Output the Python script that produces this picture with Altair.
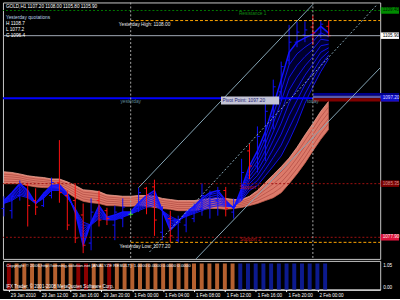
import json
import altair as alt
import pandas as pd

FONT = "Liberation Sans"

# ---------------- data ----------------
BAR = list(range(42))  # H1 bars, 29 Jan 08:00 ... 2 Feb 01:00
OPEN = [1081.9, 1081.6, 1083.7, 1085.1, 1083.0, 1082.3, 1083.7, 1085.5, 1083.7, 1083.0,
        1081.0, 1077.1, 1083.0, 1081.6, 1079.6, 1080.5, 1081.1, 1081.9, 1084.7, 1084.9,
        1078.6, 1080.5, 1077.5, 1079.6, 1080.5, 1081.9, 1082.3, 1083.0, 1084.4, 1081.4,
        1083.3, 1089.9, 1087.8, 1091.3, 1094.7, 1098.1, 1102.5, 1105.0, 1106.0, 1107.1,
        1106.1, 1107.2]
HIGH = [1083.6, 1083.7, 1085.8, 1085.5, 1084.7, 1084.1, 1086.2, 1091.4, 1084.4, 1085.4,
        1082.6, 1083.3, 1084.4, 1082.0, 1082.3, 1083.3, 1081.6, 1084.8, 1084.9, 1085.9,
        1082.2, 1081.6, 1080.9, 1081.4, 1082.6, 1085.4, 1084.4, 1084.9, 1084.9, 1083.3,
        1088.8, 1090.9, 1093.3, 1096.4, 1099.8, 1102.3, 1107.4, 1107.8, 1107.9, 1108.7,
        1108.0, 1108.0]
LOW = [1080.8, 1080.5, 1083.0, 1079.4, 1081.0, 1082.1, 1083.3, 1082.7, 1078.9, 1077.1,
       1075.7, 1076.1, 1079.4, 1079.6, 1077.5, 1079.3, 1080.8, 1081.4, 1081.1, 1078.1,
       1077.5, 1077.2, 1077.2, 1078.6, 1080.0, 1080.9, 1080.5, 1080.9, 1080.8, 1080.5,
       1083.0, 1086.0, 1086.9, 1088.5, 1092.9, 1096.8, 1101.9, 1104.3, 1105.0, 1104.6,
       1105.6, 1105.8]
CLOSE = [1083.0, 1083.6, 1085.3, 1082.3, 1082.1, 1083.7, 1085.5, 1084.1, 1079.6, 1077.8,
         1076.8, 1081.4, 1080.3, 1080.5, 1081.4, 1082.1, 1081.1, 1084.1, 1083.8, 1080.3,
         1081.1, 1078.1, 1080.0, 1080.9, 1082.1, 1083.7, 1084.0, 1084.4, 1081.9, 1082.2,
         1086.9, 1087.8, 1091.9, 1095.4, 1098.8, 1101.6, 1105.0, 1106.4, 1106.7, 1106.3,
         1107.5, 1105.9]
MA_FAST = [1083.0, 1084.1, 1085.35, 1084.4, 1082.6, 1084.0, 1085.1, 1085.2, 1084.0, 1081.4,
           1076.8, 1080.0, 1082.3, 1080.7, 1081.0, 1081.4, 1081.4, 1082.7, 1083.7, 1084.4,
           1081.6, 1078.9, 1080.0, 1081.4, 1082.2, 1083.3, 1084.1, 1084.4, 1083.0, 1081.9,
           1084.7, 1087.8, 1089.9, 1092.6, 1096.1, 1099.8, 1103.6, 1105.0, 1105.6, 1106.1,
           1107.2, 1106.25]
MA_SLOW = [1082.6, 1083.0, 1083.7, 1083.4, 1082.6, 1083.3, 1084.4, 1084.4, 1083.4, 1081.9,
           1080.0, 1079.6, 1080.5, 1080.3, 1080.3, 1080.7, 1081.1, 1081.6, 1082.05, 1082.3,
           1081.6, 1080.8, 1080.3, 1080.8, 1081.2, 1081.6, 1082.05, 1082.3, 1082.2, 1082.2,
           1083.0, 1084.4, 1085.1, 1086.45, 1087.8, 1089.2, 1091.3, 1093.7, 1096.5, 1098.8,
           1100.9, 1102.7]
RIBBON_TOP = [1087.0, 1086.9, 1086.7, 1086.45, 1086.3, 1086.2, 1086.0, 1086.0, 1085.6, 1085.1,
              1084.5, 1084.4, 1084.25, 1083.8, 1083.7, 1083.6, 1083.6, 1083.7, 1083.7, 1083.6,
              1083.3, 1083.15, 1083.0, 1083.0, 1083.0, 1083.15, 1083.3, 1083.3, 1083.3, 1083.15,
              1083.15, 1083.6, 1084.4, 1085.5, 1086.6, 1087.7, 1088.9, 1090.4, 1092.1, 1093.7,
              1095.4, 1096.8]
RIBBON_BOTTOM = [1085.35, 1085.35, 1085.35, 1085.1, 1084.9, 1084.8, 1084.8, 1084.7, 1084.1, 1083.4,
                 1082.9, 1082.7, 1082.6, 1082.3, 1082.3, 1082.2, 1082.2, 1082.3, 1082.2, 1082.05,
                 1081.9, 1081.8, 1081.6, 1081.6, 1081.6, 1081.8, 1081.9, 1081.9, 1081.8, 1081.9,
                 1082.05, 1082.3, 1082.6, 1083.0, 1083.4, 1084.1, 1085.35, 1086.7, 1088.2, 1089.9,
                 1091.5, 1092.9]
SIGNAL_VALUE = [1, 1, 1, 1, 1, 1, 1, 1, 1, 1, 1, 1, 1, 1, 1, 1, 1, 1, 1, 1, 1,
                1, 1, 1, 1, 1, 1, 1, 1, 1, 1, 1, 1, 1, 1, 1, 1, 1, 1, 1, 1, 1]
SIGNAL_STATE = ["red", "orange", "orange", "orange", "orange", "orange", "orange", "orange",
                "orange", "red", "red", "orange", "orange", "red", "orange", "orange", "orange",
                "orange", "orange", "orange", "orange", "orange", "orange", "orange", "orange",
                "orange", "orange", "orange", "orange", "orange", "blue", "blue", "blue", "blue",
                "blue", "blue", "blue", "blue", "blue", "blue", "blue", "blue"]
TIME_TICKS = [0, 4, 8, 12, 16, 20, 24, 28, 32, 36, 40]
TIME_LABELS = ["29 Jan 2010", "29 Jan 12:00", "29 Jan 16:00", "29 Jan 20:00", "1 Feb 00:00",
               "1 Feb 04:00", "1 Feb 08:00", "1 Feb 12:00", "1 Feb 16:00", "1 Feb 20:00",
               "2 Feb 00:00"]
PRICE_TICKS = [1110.10, 1107.90, 1105.70, 1103.50, 1101.30, 1099.10, 1096.90, 1094.70, 1092.50,
               1090.30, 1088.10, 1085.90, 1083.70, 1081.50, 1079.30, 1077.10, 1074.90]
DAY_STARTS = [16, 39]
LEVEL_NAMES = ["Resistance 1", "Yesterday High", "Bid", "Pivot", "Support 1", "Support 2",
               "Yesterday Low"]
LEVEL_PRICES = [1109.4, 1108.0, 1105.9, 1097.2, 1085.35, 1077.9, 1077.2]
CHANNEL_STYLE = ["solid", "dotted", "solid"]
CHANNEL_X0 = [17, 18.375, 24.25]
CHANNEL_P0 = [1084.8, 1075.86, 1074.9]
CHANNEL_X1 = [39, 47.125, 47.5]
CHANNEL_P1 = [1110.24, 1110.24, 1101.44]
YDAY_H, YDAY_L, YDAY_C = 1108.7, 1077.2, 1096.4

# ---------------- scales ----------------
X_MIN, X_MAX, X_EDGE = -0.125, 47.5, 49.875
XS = alt.Scale(domain=[X_MIN, X_MAX], nice=False, zero=False)
YS = alt.Scale(domain=[1074.9, 1110.5125], nice=False, zero=False)


def X(f):
    return alt.X(f, type="quantitative", scale=XS, axis=None)


def Y(f):
    return alt.Y(f, type="quantitative", scale=YS, axis=None)


Y_AXIS = alt.Axis(orient="right", values=PRICE_TICKS, format=".2f", labelColor="#ffffff",
                  labelFont=FONT, labelFontSize=4.7, labelPadding=1, tickSize=2,
                  tickColor="#ffffff", domainColor="#ffffff", grid=False, title=None,
                  labelOverlap=False, labelFlush=False)

bars = pd.DataFrame({"i": BAR, "o": OPEN, "h": HIGH, "l": LOW, "c": CLOSE,
                     "fast": MA_FAST, "slow": MA_SLOW,
                     "top": RIBBON_TOP, "bottom": RIBBON_BOTTOM})
base = alt.Chart(bars)
layers = []

# salmon ribbon
layers.append(base.mark_area(color="#dc7a6a").encode(
    x=X("i"), y=alt.Y("top:Q", scale=YS, axis=Y_AXIS), y2=alt.Y2("bottom")))
for f in (0.2, 0.4, 0.6, 0.8):
    layers.append(base.transform_calculate(m=f"datum.bottom + (datum.top - datum.bottom) * {f}")
                  .mark_line(color="#a8403a", strokeWidth=0.6).encode(x=X("i"), y=Y("m")))
layers.append(base.mark_line(color="#f0a494", strokeWidth=0.8).encode(x=X("i"), y=Y("top")))
layers.append(base.mark_line(color="#c8604f", strokeWidth=0.8).encode(x=X("i"), y=Y("bottom")))

# blue ribbon
layers.append(base.mark_area(color="#0000ff", opacity=0.18).encode(
    x=X("i"), y=Y("fast"), y2=alt.Y2("slow")))
for k in range(8):
    layers.append(base.transform_calculate(m=f"datum.slow + (datum.fast - datum.slow) * {k / 7}")
                  .mark_line(color="#1212ff", strokeWidth=1.5 if k == 7 else 0.9)
                  .encode(x=X("i"), y=Y("m")))

# OHLC bars
bb = base.transform_calculate(
    dir="datum.c > datum.o ? 'up' : (datum.c < datum.o ? 'down' : 'flat')",
    xl="datum.i - 0.3", xr="datum.i + 0.3")
COLOR = alt.Color("dir:N", scale=alt.Scale(domain=["up", "down", "flat"],
                                           range=["#1010ff", "#ff1010", "#20e020"]), legend=None)
layers.append(bb.mark_rule(strokeWidth=1).encode(x=X("i"), y=Y("l"), y2=alt.Y2("h"), color=COLOR))
layers.append(bb.mark_rule(strokeWidth=1).encode(x=X("xl"), x2=alt.X2("i"), y=Y("o"), color=COLOR))
layers.append(bb.mark_rule(strokeWidth=1).encode(x=X("i"), x2=alt.X2("xr"), y=Y("c"), color=COLOR))

# levels
levels = pd.DataFrame({"name": LEVEL_NAMES, "p": LEVEL_PRICES})
lv = alt.Chart(levels)


def level(name, **calc):
    ch_ = lv.transform_filter(alt.datum.name == name)
    if calc:
        ch_ = ch_.transform_calculate(**calc)
    return ch_


def span(name, x0, x1, **mark):
    return level(name, xa=str(x0), xb=str(x1)).mark_rule(**mark).encode(
        x=X("xa"), x2=alt.X2("xb"), y=Y("p"))


layers.append(level("Resistance 1").mark_rule(color="#007a00", strokeDash=[2, 2]).encode(y=Y("p")))
layers.append(span("Yesterday High", DAY_STARTS[0], X_MAX, color="#ffa500", strokeDash=[3, 2]))
layers.append(span("Yesterday Low", DAY_STARTS[0], X_MAX, color="#ffa500", strokeDash=[3, 2]))
layers.append(level("Support 1").mark_rule(color="#a01010", strokeDash=[2, 2]).encode(y=Y("p")))
layers.append(level("Support 2").mark_rule(color="#a01010", strokeDash=[2, 2]).encode(y=Y("p")))
layers.append(level("Bid").mark_rule(color="#a3acb8", strokeWidth=1).encode(y=Y("p")))
layers.append(span("Pivot", X_MIN, DAY_STARTS[1], color="#0000ff", strokeWidth=2))

# today band after the last day start
for a, b, col in ((0.35, 0.75, "#00008b"), (0.0, 0.35, "#5a5aa8"), (-0.45, 0.0, "#800000")):
    layers.append(level("Pivot", a=f"datum.p + {a}", b=f"datum.p + {b}",
                        xa=str(DAY_STARTS[1]), xb=str(X_EDGE))
                  .mark_rect(color=col).encode(x=X("xa"), x2=alt.X2("xb"),
                                               y=Y("a"), y2=alt.Y2("b")))

# day separators
days = pd.DataFrame({"i": DAY_STARTS})
layers.append(alt.Chart(days).mark_rule(color="#a8a8a8", strokeDash=[2, 2]).encode(x=X("i")))

# channel lines
chn = pd.DataFrame({"style": CHANNEL_STYLE, "x0": CHANNEL_X0, "p0": CHANNEL_P0,
                    "x1": CHANNEL_X1, "p1": CHANNEL_P1})
layers.append(alt.Chart(chn).transform_filter(alt.datum.style == "solid")
              .mark_rule(color="#86a6b6", strokeWidth=1)
              .encode(x=X("x0"), y=Y("p0"), x2=alt.X2("x1"), y2=alt.Y2("p1")))
layers.append(alt.Chart(chn).transform_filter(alt.datum.style == "dotted")
              .mark_rule(color="#86a6b6", strokeWidth=1, strokeDash=[2, 2])
              .encode(x=X("x0"), y=Y("p0"), x2=alt.X2("x1"), y2=alt.Y2("p1")))

# pivot label box
layers.append(level("Pivot", a="datum.p + 0.25", b="datum.p - 0.85", xa="27.4", xb="34.75")
              .mark_rect(color="#c4c4d6").encode(x=X("xa"), x2=alt.X2("xb"),
                                                 y=Y("a"), y2=alt.Y2("b")))
layers.append(level("Pivot", t="'Pivot Point: ' + format(datum.p, '.2f')", xa="27.6")
              .mark_text(align="left", baseline="middle", dy=3, font=FONT, fontSize=4.8,
                         color="#1a1a70")
              .encode(x=X("xa"), y=Y("p"), text="t:N"))


def level_text(name, text, at, align, color, dy):
    return level(name, xa=str(at), t=json.dumps(text)).mark_text(
        align=align, baseline="middle", dy=dy, font=FONT, fontSize=4.8, color=color).encode(
        x=X("xa"), y=Y("p"), text="t:N")


layers.append(level_text("Yesterday High", f"Yesterday High: {LEVEL_PRICES[1]:.2f}", 14.5,
                         "left", "#e8e8e8", 4))
layers.append(level_text("Yesterday Low", f"Yesterday Low: {LEVEL_PRICES[6]:.2f}", 14.6,
                         "left", "#e8e8e8", 4.5))
layers.append(level_text("Resistance 1", "Resistance 1", 31.4, "center", "#138a13", 4))
layers.append(level_text("Support 1", "Support 1", 31.0, "center", "#c01818", 4))
layers.append(level_text("Support 2", "Support 2", 31.1, "center", "#c01818", 3))
layers.append(level_text("Pivot", "yesterday", DAY_STARTS[0], "center", "#5f8799", 4))
layers.append(level_text("Pivot", "today", DAY_STARTS[1], "center", "#5f8799", 4))

# right-axis price boxes
for name, fill, txt in (("Resistance 1", "#008c00", "#002000"), ("Bid", "#ffffff", "#000000"),
                        ("Pivot", "#1010c8", "#d8d8ff"), ("Support 1", "#7a0000", "#d09090"),
                        ("Support 2", "#dc143c", "#ffe8e8")):
    layers.append(level(name, a="datum.p + 0.45", b="datum.p - 0.45",
                        xa="47.56", xb=str(X_EDGE))
                  .mark_rect(color=fill).encode(x=X("xa"), x2=alt.X2("xb"),
                                                y=Y("a"), y2=alt.Y2("b")))
    layers.append(level(name, xa="47.81").mark_text(align="left", baseline="middle", font=FONT,
                                                     fontSize=4.7, color=txt)
                  .encode(x=X("xa"), y=Y("p"), text=alt.Text("p:Q", format=".2f")))


# corner texts
def corner(text, x, y, color, size=4.8):
    return alt.Chart(pd.DataFrame({"t": [text]})).mark_text(
        align="left", baseline="middle", font=FONT, fontSize=size, color=color).encode(
        x=alt.value(x), y=alt.value(y), text="t:N")


layers.append(corner(f"GOLD,H1  {OPEN[-1]:.2f} {HIGH[-1]:.2f} {LOW[-1]:.2f} {CLOSE[-1]:.2f}",
                     3, 5, "#ffffff", 4.7))
layers.append(corner("Yesterday quotations", 3, 16, "#b8d0e8"))
layers.append(corner(f"H {YDAY_H}", 3, 22, "#ffffff"))
layers.append(corner(f"L {YDAY_L}", 3, 28, "#ffffff"))
layers.append(corner(f"C {YDAY_C}", 3, 34, "#ffffff"))

main = alt.layer(*layers).properties(width=381, height=259)

# ---------------- indicator panel ----------------
sig = pd.DataFrame({"i": BAR, "v": SIGNAL_VALUE, "s": SIGNAL_STATE})
label_expr = f"{json.dumps(TIME_LABELS)}[indexof({json.dumps(TIME_TICKS)}, datum.value)]"
X_AXIS = alt.Axis(values=TIME_TICKS, labelExpr=label_expr, labelAlign="left", labelOffset=1.5,
                  labelColor="#ffffff", labelFont=FONT, labelFontSize=4.6, labelPadding=0.5,
                  tickSize=2, tickColor="#ffffff", domainColor="#ffffff", grid=False,
                  title=None, labelOverlap=False, labelFlush=False)
ind_layers = [
    alt.Chart(sig).mark_bar(size=4).encode(
        x=alt.X("i:Q", scale=XS, axis=X_AXIS),
        y=alt.Y("v:Q", scale=alt.Scale(domain=[0, 1.1], nice=False, zero=True), axis=None),
        color=alt.Color("s:N", scale=alt.Scale(domain=["red", "orange", "blue"],
                                               range=["#8b0000", "#b5602f", "#0c1a8e"]),
                        legend=None)),
    corner("Copyright \u00a9 2006,http://winning-solution.net [ANALYZE RESULT]: 1.0000 0.0000 0.0000 0.0000",
           3, 5, "#ffffff", 4.4),
    corner("IFX Trader, \u00a9 2001-2008 MetaQuotes Software Corp.", 3, 26, "#ffffff", 4.6),
    corner("1.05", 384, 5, "#ffffff", 4.7),
    corner("0.00", 384, 27, "#ffffff", 4.7),
]
ind = alt.layer(*ind_layers).properties(width=381, height=29)

chart = (alt.vconcat(main, ind, spacing=0)
         .resolve_scale(color="independent")
         .properties(background="#000000", padding=0)
         .configure_view(stroke="#c8c8c8", strokeWidth=1))

chart.save("out.html", embed_options={"renderer": "svg", "actions": False})
